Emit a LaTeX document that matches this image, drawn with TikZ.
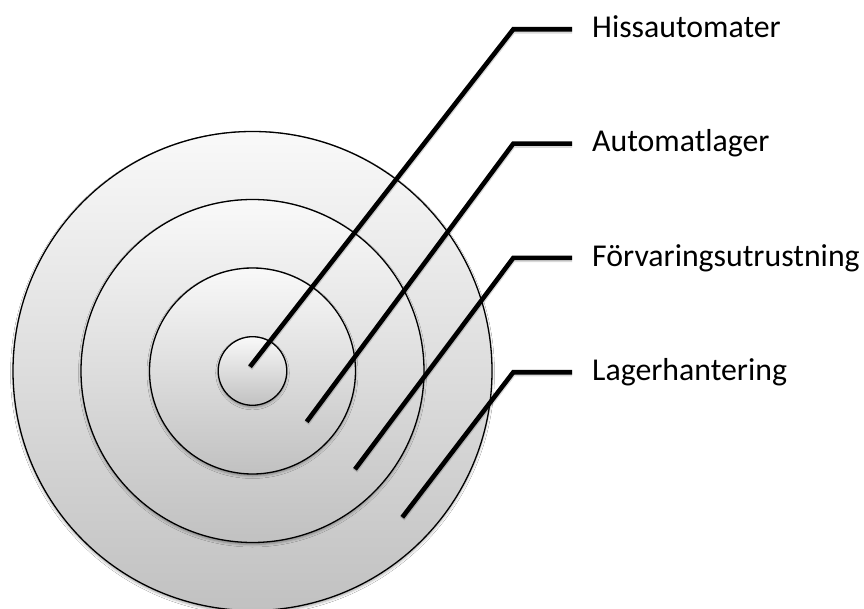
\documentclass[tikz,border=0pt]{standalone}
\usepackage{fontspec}
\setmainfont{Carlito}
\usetikzlibrary{shadows.blur}
\definecolor{ringtop}{HTML}{F9F9F9}
\definecolor{ringbot}{HTML}{C1C1C1}
\begin{document}
\begin{tikzpicture}[x=1pt,y=-1pt,
  ring/.style={circle, draw=black, line width=1.3pt, inner sep=0pt,
    top color=ringtop, bottom color=ringbot,
    blur shadow={shadow xshift=0pt, shadow yshift=-2pt, shadow blur radius=2.5pt, shadow opacity=35}},
  leader/.style={draw=black, line width=4.6pt, line cap=butt, line join=miter},
  leadershadow/.style={draw=black, line width=5.5pt, opacity=0.15, line cap=butt, line join=miter},
  lbl/.style={anchor=base west, inner sep=0pt, font=\fontsize{31.8}{38}\selectfont}]
\useasboundingbox (0,0) rectangle (864,609);
\fill[white] (0,0) rectangle (864,609);

% rings
\node[ring, minimum size=479pt] (r4) at (252.5,371) {};
\node[ring, minimum size=343pt] (r3) at (252.5,371) {};
\node[ring, minimum size=206pt] (r2) at (252.5,371) {};
\node[ring, minimum size=68.6pt] (r1) at (252.5,371) {};

% labels
\node[lbl] (t1) at (592,37.7) {Hissautomater};
\node[lbl] (t2) at (592,152) {Automatlager};
\node[lbl] (t3) at (592,266.3) {Förvaringsutrustning};
\node[lbl] (t4) at (592,380.6) {Lagerhantering};

% leader points
\coordinate (s1) at (250,366.7);   \coordinate (k1) at (513.3,29.3);  \coordinate (e1) at (572,29.3);
\coordinate (s2) at (306.7,421.7); \coordinate (k2) at (513.3,143.6); \coordinate (e2) at (572,143.6);
\coordinate (s3) at (355,469.3);   \coordinate (k3) at (513.3,257.9); \coordinate (e3) at (572,257.9);
\coordinate (s4) at (402.3,517.3); \coordinate (k4) at (513.3,372.2); \coordinate (e4) at (572,372.2);

% leader shadows
\foreach \i in {1,2,3,4}{
  \draw[leadershadow, transform canvas={yshift=-1.5pt}] (s\i) -- (k\i) -- (e\i);
}
% leaders
\draw[leader] (s1) -- (k1) -- (e1);
\draw[leader] (s2) -- (k2) -- (e2);
\draw[leader] (s3) -- (k3) -- (e3);
\draw[leader] (s4) -- (k4) -- (e4);
\end{tikzpicture}
\end{document}
